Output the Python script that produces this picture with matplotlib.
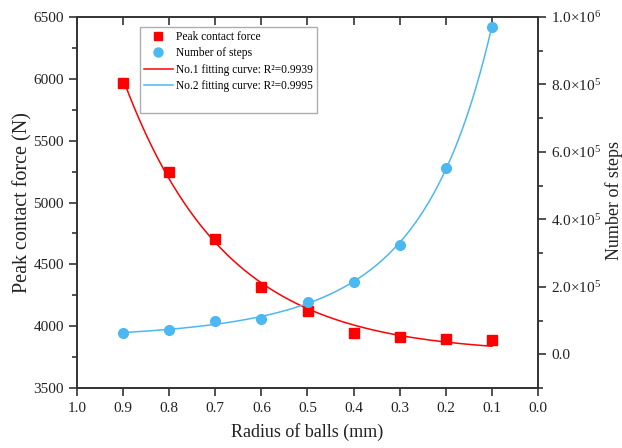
import numpy as np
import matplotlib
matplotlib.use("Agg")
import matplotlib.pyplot as plt
from matplotlib.lines import Line2D
from matplotlib.ticker import MultipleLocator, FuncFormatter

plt.rcParams['font.family'] = ['Liberation Serif', 'DejaVu Serif']
plt.rcParams['mathtext.fontset'] = 'custom'
plt.rcParams['mathtext.rm'] = 'Liberation Serif'
plt.rcParams['mathtext.it'] = 'Liberation Serif:italic'
plt.rcParams['mathtext.default'] = 'regular'

# Measured data
radius = [0.9, 0.8, 0.7, 0.6, 0.5, 0.4, 0.3, 0.2, 0.1]
peak_force = [5968, 5245, 4705, 4318, 4120, 3945, 3915, 3895, 3889]
num_steps = [62000, 72000, 98000, 106000, 155000, 215000, 325000, 553000, 971000]

fit1_label = "No.1 fitting curve: R²=0.9939"
fit2_label = "No.2 fitting curve: R²=0.9995"

red = '#FF0000'
blue = '#4CB8F2'


def exp_fit(x, y, sign):
    """Least-squares fit of y = y0 + A*exp(sign*x/t), scanning t."""
    x = np.asarray(x, float)
    y = np.asarray(y, float)
    best = None
    for t in np.linspace(0.03, 2.0, 2000):
        e = np.exp(sign * x / t)
        M = np.column_stack([np.ones_like(x), e])
        coef, *_ = np.linalg.lstsq(M, y, rcond=None)
        err = np.sum((M @ coef - y) ** 2)
        if best is None or err < best[0]:
            best = (err, coef, t)
    _, (y0, A), t = best
    return lambda xx: y0 + A * np.exp(sign * xx / t)


def expdec2_fit(x, y):
    """Least-squares fit of y = y0 + A1*exp(-x/t1) + A2*exp(-x/t2)."""
    x = np.asarray(x, float)
    y = np.asarray(y, float)
    best = None
    for t1 in np.linspace(0.01, 0.12, 111):
        for t2 in np.linspace(0.12, 1.5, 140):
            M = np.column_stack([np.ones_like(x), np.exp(-x / t1), np.exp(-x / t2)])
            coef, *_ = np.linalg.lstsq(M, y, rcond=None)
            err = np.sum((M @ coef - y) ** 2)
            if best is None or err < best[0]:
                best = (err, coef, t1, t2)
    _, (y0, A1, A2), t1, t2 = best
    return lambda xx: y0 + A1 * np.exp(-xx / t1) + A2 * np.exp(-xx / t2)


f1 = exp_fit(radius, peak_force, 1)
f2 = expdec2_fit(radius, num_steps)
xs = np.linspace(min(radius), max(radius), 400)

fig = plt.figure(figsize=(6.22, 4.48), dpi=100)
ax = fig.add_axes([77 / 622, 60 / 448, 461 / 622, 371 / 448])
ax2 = ax.twinx()

ax.plot(xs, f1(xs), color=red, lw=1.1, zorder=2)
ax.plot(radius, peak_force, 's', color=red, ms=6.5, zorder=3)
ax2.plot(xs, f2(xs), color=blue, lw=1.1, zorder=2)
ax2.plot(radius, num_steps, 'o', color=blue, ms=7, zorder=3)

ax.set_xlim(1.0, 0.0)
ax.set_ylim(3500, 6500)
ax2.set_ylim(-1.0e5, 1.0e6)

ax.xaxis.set_major_locator(MultipleLocator(0.1))
ax.xaxis.set_major_formatter(FuncFormatter(lambda v, p: f"{v:.1f}"))
ax.yaxis.set_major_locator(MultipleLocator(500))
ax.yaxis.set_minor_locator(MultipleLocator(250))
ax2.yaxis.set_major_locator(MultipleLocator(2e5))
ax2.yaxis.set_minor_locator(MultipleLocator(1e5))


def sci_fmt(v, p):
    if abs(v) < 1:
        return "0.0"
    exp = int(np.floor(np.log10(abs(v))))
    mant = v / 10 ** exp
    return f"{mant:.1f}×10$^{{{exp}}}$"


ax2.yaxis.set_major_formatter(FuncFormatter(sci_fmt))

spine_c = '#333333'
for a in (ax, ax2):
    for s in a.spines.values():
        s.set_color(spine_c)
        s.set_linewidth(1.2)

ax.tick_params(axis='x', which='major', direction='out', length=6, width=1.2,
               colors=spine_c, labelcolor='#222222', labelsize=11, top=True,
               pad=4)
ax.tick_params(axis='y', which='major', direction='out', length=6, width=1.2,
               colors=spine_c, labelcolor='#222222', labelsize=11)
ax.tick_params(axis='y', which='minor', direction='out', length=3.5, width=1.2,
               colors=spine_c)
ax2.tick_params(axis='y', which='major', direction='out', length=6, width=1.2,
                colors=spine_c, labelcolor='#222222', labelsize=11)
ax2.tick_params(axis='y', which='minor', direction='out', length=3.5, width=1.2,
                colors=spine_c)
# top spine carries inward ticks
for t in ax.xaxis.get_major_ticks():
    t.tick2line.set_marker(matplotlib.lines.TICKDOWN)

ax.set_xlabel("Radius of balls (mm)", fontsize=13, color='#222222')
ax.xaxis.set_label_coords(0.5, -(423 - 388) / 371)
ax.set_ylabel("Peak contact force (N)", fontsize=14.5, color='#222222')
ax.yaxis.set_label_coords(-(77 - 32) / 461, 0.5)
ax2.set_ylabel("Number of steps", fontsize=13, color='#222222')
ax2.yaxis.set_label_coords((605 - 77) / 461, (388 - 200) / 371)

handles = [
    Line2D([], [], ls='none', marker='s', color=red, ms=6),
    Line2D([], [], ls='none', marker='o', color=blue, ms=6.5),
    Line2D([], [], color=red, lw=1.1),
    Line2D([], [], color=blue, lw=1.1),
    Line2D([], [], ls='none'),
]
labels = ["Peak contact force", "Number of steps", fit1_label, fit2_label, " "]
leg = ax2.legend(handles, labels, loc='upper left',
                 bbox_to_anchor=(63 / 461, 361 / 371), fontsize=8.3,
                 frameon=True, fancybox=False, edgecolor='#999999',
                 handlelength=2.5, handletextpad=0.3, borderpad=0.35,
                 labelspacing=0.38, borderaxespad=0)
leg.get_frame().set_linewidth(1.0)

fig.savefig("out.png", dpi=100)
